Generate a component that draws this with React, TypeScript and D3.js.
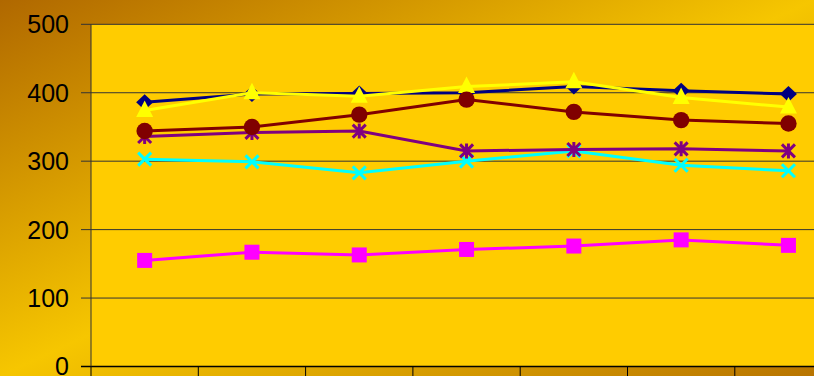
import React from "react";
import * as d3 from "d3";

const categories = ["1", "2", "3", "4", "5", "6", "7"];
const yTicks = [0, 100, 200, 300, 400, 500];

const navyDiamond = [386, 398, 399, 400, 409, 403, 398];
const magentaSquare = [155, 167, 163, 171, 176, 185, 177];
const yellowTriangle = [374, 400, 395, 409, 416, 393, 379];
const cyanCross = [303, 299, 283, 300, 315, 294, 286];
const purpleStar = [336, 342, 344, 315, 317, 318, 315];
const redCircle = [344, 350, 368, 390, 372, 360, 355];

const series = [
  { name: "S1", values: navyDiamond, color: "#000080", marker: "diamond" },
  { name: "S2", values: magentaSquare, color: "#FF00FF", marker: "square" },
  { name: "S3", values: yellowTriangle, color: "#FFFF00", marker: "triangle" },
  { name: "S4", values: cyanCross, color: "#00FFFF", marker: "x" },
  { name: "S5", values: purpleStar, color: "#800080", marker: "star" },
  { name: "S6", values: redCircle, color: "#800000", marker: "circle" },
];

const W = 814;
const H = 376;
const margin = { top: 24.3, left: 91 };
const bandW = 107.3;
const innerW = bandW * categories.length;
const innerH = 342.2;

function Marker({ type, x, y, color }: { type: string; x: number; y: number; color: string }) {
  if (type === "diamond") {
    return <path d={`M${x},${y - 8}L${x + 8.5},${y}L${x},${y + 8}L${x - 8.5},${y}Z`} fill={color} />;
  }
  if (type === "square") {
    return <rect x={x - 7.5} y={y - 7.5} width={15} height={15} fill={color} />;
  }
  if (type === "triangle") {
    return <path d={`M${x},${y - 10}L${x + 8.5},${y + 6.5}L${x - 8.5},${y + 6.5}Z`} fill={color} />;
  }
  if (type === "circle") {
    return <circle cx={x} cy={y} r={8.2} fill={color} />;
  }
  const s = 6.5;
  const x1 = `M${x - s},${y - s}L${x + s},${y + s}M${x + s},${y - s}L${x - s},${y + s}`;
  const d = type === "star" ? `${x1}M${x},${y - s - 1}L${x},${y + s + 1}` : x1;
  return <path d={d} stroke={color} strokeWidth={3} fill="none" />;
}

export default function App() {
  const x = d3.scaleBand<string>().domain(categories).range([0, innerW]);
  const y = d3.scaleLinear().domain([0, 500]).range([innerH, 0]);
  const line = d3
    .line<number>()
    .x((_, i) => (x(categories[i]) ?? 0) + x.bandwidth() / 2)
    .y((d) => y(d));

  return (
    <svg width={W} height={H} style={{ position: "absolute", left: 0, top: 0, display: "block" }}>
      <defs>
        <linearGradient id="bg" x1="0" y1="0" x2="1" y2="1">
          <stop offset="0%" stopColor="#B06800" />
          <stop offset="50%" stopColor="#F6C600" />
          <stop offset="100%" stopColor="#B87400" />
        </linearGradient>
      </defs>
      <rect width={W} height={H} fill="url(#bg)" />
      <g transform={`translate(${margin.left},${margin.top})`}>
        <rect width={innerW} height={innerH} fill="#FFCC00" />
        {/* gridlines + y ticks */}
        {yTicks.map((t) => (
          <g key={t}>
            <line x1={-10} x2={innerW} y1={y(t)} y2={y(t)} stroke={t === 0 ? "#000" : "#333"} strokeWidth={t === 0 ? 1.3 : 1} />
            <text
              x={-22}
              y={y(t)}
              dy="0.36em"
              textAnchor="end"
              fontFamily="'Liberation Sans', Arial, sans-serif"
              fontSize={25}
              fill="#000"
            >
              {t}
            </text>
          </g>
        ))}
        <line x1={0} x2={0} y1={0} y2={innerH} stroke="#333" strokeWidth={1} />
        {/* category ticks */}
        {categories.map((c) => (
          <line key={c} x1={x(c) ?? 0} x2={x(c) ?? 0} y1={innerH} y2={innerH + 12} stroke="#000" strokeWidth={1} />
        ))}
        {series.map((s) => (
          <g key={s.name}>
            <path d={line(s.values) ?? ""} fill="none" stroke={s.color} strokeWidth={3} />
            {s.values.map((v, i) => (
              <Marker
                key={i}
                type={s.marker}
                x={(x(categories[i]) ?? 0) + x.bandwidth() / 2}
                y={y(v)}
                color={s.color}
              />
            ))}
          </g>
        ))}
      </g>
    </svg>
  );
}
